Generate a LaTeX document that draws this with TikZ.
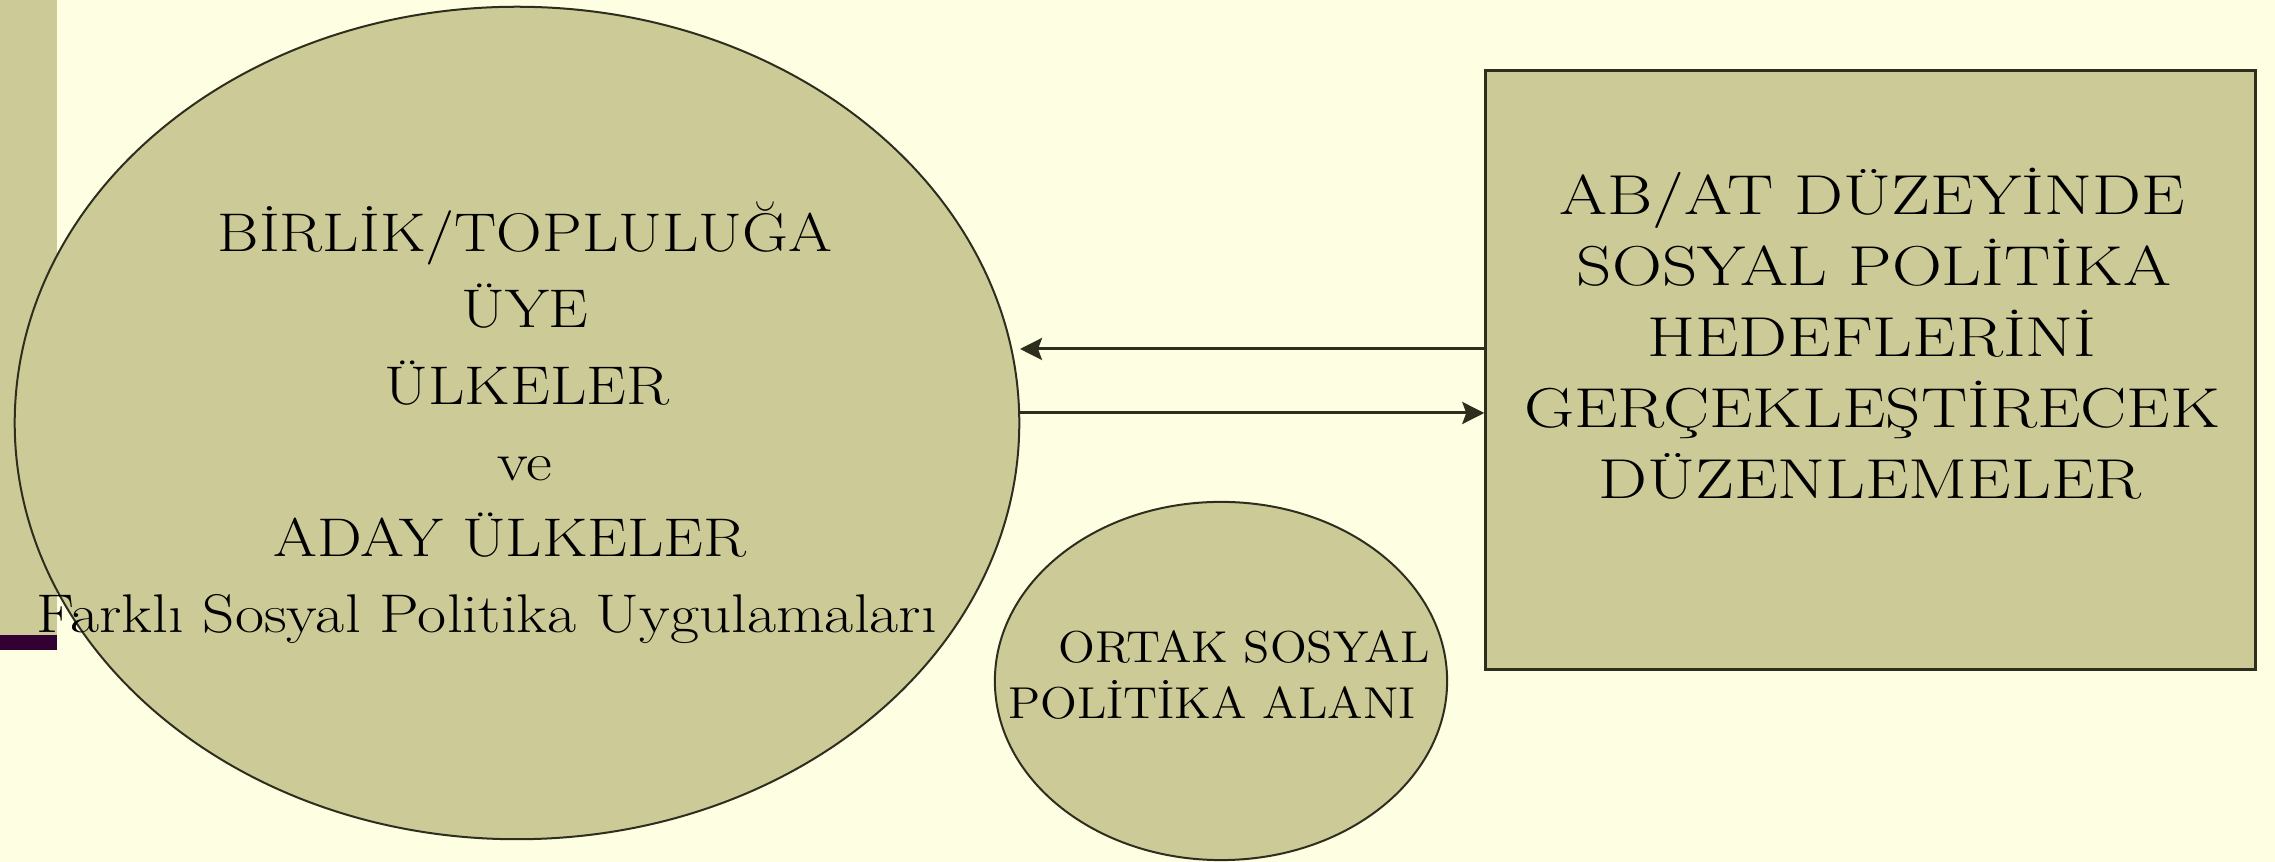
\documentclass[tikz,border=0pt]{standalone}
\usepackage{graphicx}
\usetikzlibrary{arrows.meta,shapes.geometric}
\definecolor{bgc}{HTML}{FEFEE3}
\definecolor{olivefill}{HTML}{CCCB98}
\definecolor{edgec}{HTML}{2E2E1F}
\definecolor{plum}{HTML}{330033}
\newcommand{\wtxt}[1]{\scalebox{1.16}[1]{#1}}
\newcommand{\wtxtbox}[1]{\scalebox{1.23}[1]{#1}}
\newcommand{\wtxtsm}[1]{\scalebox{1.08}[1]{#1}}
\tikzset{
  shapebox/.style={draw=edgec, fill=olivefill, inner sep=0pt},
  bigtxt/.style={anchor=base, inner sep=0pt, font=\fontsize{15.5}{18}\selectfont},
  boxtxt/.style={anchor=base, inner sep=0pt, font=\fontsize{16}{19}\selectfont},
  smalltxt/.style={anchor=base, inner sep=0pt, font=\fontsize{12.7}{14}\selectfont},
  arr/.style={draw=edgec, line width=0.3mm, -{Stealth[length=2.2mm,width=2.2mm,inset=0.4mm]}}
}
\begin{document}
\begin{tikzpicture}[x=0.01cm,y=-0.01cm]
\fill[bgc] (0,0) rectangle (2275,862);
\useasboundingbox (0,0) rectangle (2275,862);
% left bar
\fill[olivefill] (0,0) rectangle (57,635);
\fill[plum] (0,635) rectangle (57,650);
% shapes
\node[shapebox, ellipse, line width=0.2mm, minimum width=100.4mm, minimum height=83.2mm] (big) at (517,423) {};
\node[shapebox, ellipse, line width=0.2mm, minimum width=45.2mm, minimum height=35.8mm] (small) at (1221,681) {};
\node[shapebox, rectangle, line width=0.3mm, minimum width=76.9mm, minimum height=59.8mm] (box) at (1870.5,370) {};
% connectors
\coordinate (tipA) at (1020,349);
\coordinate (startB) at (1018,413);
\draw[arr] (box.west |- tipA) -- (tipA);
\draw[arr] (startB) -- (box.west |- startB);
% text in big ellipse
\node[bigtxt] (b1) at (525,252) {\wtxt{BİRLİK/TOPLULUĞA}};
\node[bigtxt] (b2) at (525,328) {\wtxt{ÜYE}};
\node[bigtxt] (b3) at (527,405) {\wtxt{ÜLKELER}};
\node[bigtxt] (b4) at (525,481) {\wtxt{ve}};
\node[bigtxt] (b5) at (510,557) {\wtxt{ADAY ÜLKELER}};
\node[bigtxt] (b6) at (487,633) {\wtxt{Farklı Sosyal Politika Uygulamaları}};
% text in box
\node[boxtxt] (r1) at (1872,215) {\wtxtbox{AB/AT DÜZEYİNDE}};
\node[boxtxt] (r2) at (1874,286) {\wtxtbox{SOSYAL POLİTİKA}};
\node[boxtxt] (r3) at (1872,357) {\wtxtbox{HEDEFLERİNİ}};
\node[boxtxt] (r4) at (1872,428) {\wtxtbox{GERÇEKLEŞTİRECEK}};
\node[boxtxt] (r5) at (1870,499) {\wtxtbox{DÜZENLEMELER}};
% text in small ellipse
\node[smalltxt] (s1) at (1244,663) {\wtxtsm{ORTAK SOSYAL}};
\node[smalltxt] (s2) at (1212,719) {\wtxtsm{POLİTİKA ALANI}};
\end{tikzpicture}
\end{document}
